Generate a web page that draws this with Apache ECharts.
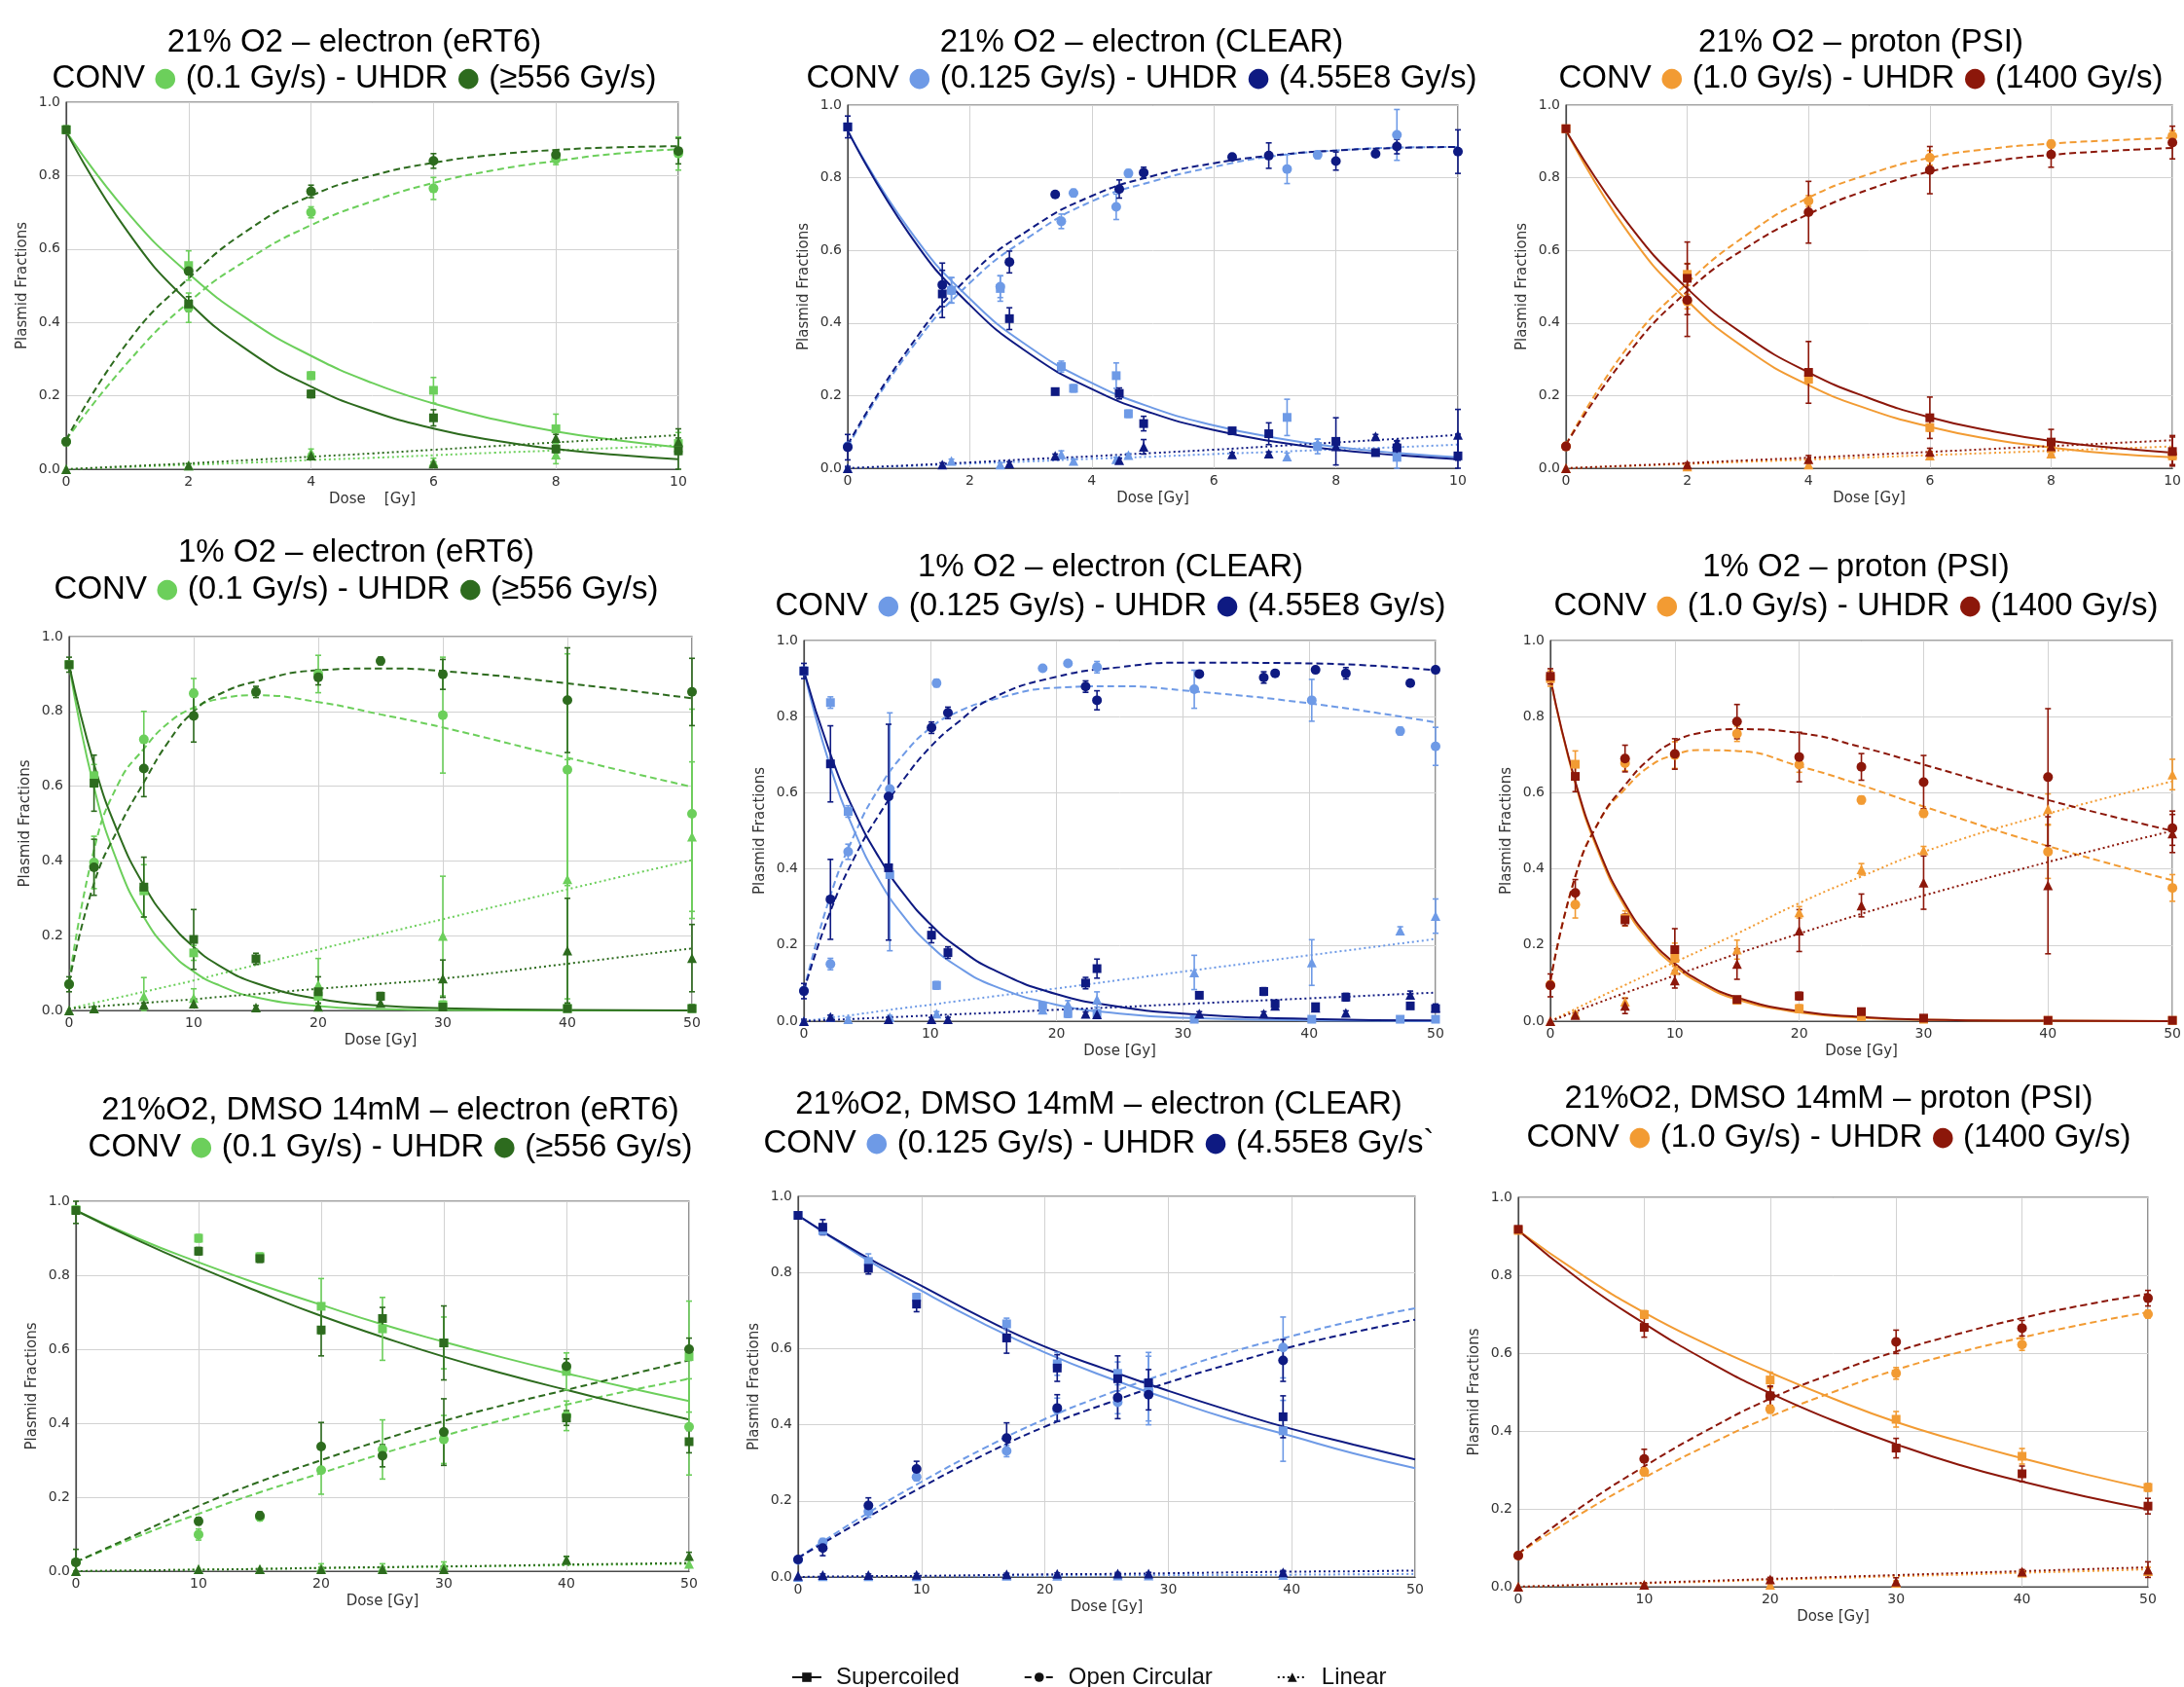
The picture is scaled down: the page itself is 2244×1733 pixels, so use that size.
<!DOCTYPE html>
<html><head><meta charset="utf-8">
<script src="https://cdn.jsdelivr.net/npm/echarts@6/dist/echarts.min.js"></script>
<style>html,body{margin:0;padding:0;background:#fff}#c{width:2244px;height:1733px}</style>
</head><body><div id="c"></div>
<script>
// ---------------- DATA ----------------
// Panel 1: 21% O2 – electron (eRT6)
const p1_dose = [0,2,4,6,8,10];
const p1_sc_conv = [0.925,0.555,0.255,0.215,0.11,0.07];
const p1_oc_conv = [0.075,0.44,0.70,0.765,0.845,0.86];
const p1_lin_conv = [0.0,0.01,0.045,0.02,0.04,0.06];
const p1_sc_uhdr = [0.925,0.45,0.205,0.14,0.055,0.05];
const p1_oc_uhdr = [0.075,0.54,0.757,0.84,0.857,0.867];
const p1_lin_uhdr = [0.0,0.01,0.037,0.015,0.085,0.075];
const p1_sc_conv_err = [0.01,0.04,0.01,0.035,0.04,0.03];
const p1_oc_conv_err = [0.01,0.04,0.015,0.03,0.015,0.045];
const p1_lin_conv_err = [0,0.005,0.01,0.01,0.025,0.01];
const p1_sc_uhdr_err = [0.01,0.02,0.01,0.022,0.01,0.06];
const p1_oc_uhdr_err = [0.01,0.01,0.017,0.02,0.01,0.035];
const p1_lin_uhdr_err = [0,0.005,0.005,0.005,0.01,0.01];
const p1_fx = [0,1,2,3,4,5,6,7,8,9,10];
const p1_fsc_conv = [0.92,0.70,0.533,0.405,0.309,0.235,0.179,0.136,0.103,0.079,0.060];
const p1_foc_conv = [0.08,0.29,0.455,0.575,0.665,0.73,0.78,0.815,0.84,0.86,0.872];
const p1_flin_conv = [0,0.006,0.012,0.018,0.025,0.031,0.038,0.045,0.051,0.058,0.065];
const p1_fsc_uhdr = [0.92,0.648,0.455,0.32,0.225,0.158,0.111,0.078,0.055,0.039,0.027];
const p1_foc_uhdr = [0.08,0.345,0.52,0.655,0.745,0.80,0.835,0.857,0.87,0.877,0.88];
const p1_flin_uhdr = [0,0.008,0.016,0.025,0.034,0.043,0.053,0.063,0.073,0.083,0.093];

// Panel 2: 21% O2 – electron (CLEAR)
const p2_dose_conv = [0,1.7,2.5,3.5,3.7,4.4,4.6,7.2,7.7,9.0];
const p2_sc_conv = [0.94,0.49,0.495,0.28,0.22,0.255,0.15,0.14,0.06,0.03];
const p2_oc_conv = [0.06,0.49,0.50,0.68,0.758,0.72,0.812,0.824,0.863,0.918];
const p2_lin_conv = [0.0,0.02,0.01,0.038,0.02,0.025,0.036,0.032,0.07,0.065];
const p2_sc_conv_err = [0.01,0.035,0.035,0.015,0.01,0.035,0.01,0.05,0.02,0.03];
const p2_oc_conv_err = [0.01,0.035,0.03,0.02,0.01,0.035,0.01,0.04,0.01,0.07];
const p2_lin_conv_err = [0,0.005,0.005,0.01,0.005,0.005,0.005,0.01,0.01,0.01];
const p2_dose_uhdr = [0,1.55,2.65,3.4,4.45,4.85,6.3,6.9,8.0,8.65,9.0,10];
const p2_sc_uhdr = [0.94,0.48,0.412,0.211,0.206,0.123,0.103,0.095,0.074,0.043,0.056,0.034];
const p2_oc_uhdr = [0.058,0.505,0.568,0.754,0.769,0.814,0.857,0.861,0.846,0.866,0.886,0.872];
const p2_lin_uhdr = [0.0,0.01,0.013,0.034,0.022,0.059,0.038,0.04,0.06,0.088,0.07,0.092];
const p2_sc_uhdr_err = [0.03,0.065,0.03,0.005,0.015,0.02,0.005,0.03,0.065,0.005,0.02,0.06];
const p2_oc_uhdr_err = [0.035,0.06,0.03,0.005,0.025,0.015,0.005,0.035,0.025,0.005,0.02,0.06];
const p2_lin_uhdr_err = [0.005,0.005,0.005,0.005,0.005,0.02,0.005,0.005,0.005,0.005,0.005,0.07];
const p2_fx = [0,1,2,3,4,5,6,7,8,9,10];
const p2_fsc_conv = [0.93,0.659,0.467,0.331,0.235,0.166,0.118,0.084,0.059,0.042,0.030];
const p2_foc_conv = [0.06,0.32,0.51,0.64,0.735,0.79,0.83,0.86,0.875,0.883,0.885];
const p2_flin_conv = [0,0.006,0.013,0.019,0.026,0.032,0.039,0.045,0.052,0.058,0.065];
const p2_fsc_uhdr = [0.93,0.647,0.45,0.313,0.218,0.151,0.105,0.073,0.051,0.036,0.025];
const p2_foc_uhdr = [0.065,0.33,0.53,0.66,0.75,0.805,0.84,0.862,0.875,0.882,0.885];
const p2_flin_uhdr = [0,0.008,0.016,0.025,0.033,0.042,0.051,0.061,0.071,0.081,0.092];

// Panel 3: 21% O2 – proton (PSI)
const p3_dose = [0,2,4,6,8,10];
const p3_sc_conv = [0.935,0.534,0.245,0.112,0.054,0.034];
const p3_oc_conv = [0.06,0.459,0.736,0.855,0.893,0.915];
const p3_lin_conv = [0.0,0.005,0.01,0.035,0.04,0.04];
const p3_sc_uhdr = [0.935,0.523,0.264,0.139,0.072,0.046];
const p3_oc_uhdr = [0.06,0.463,0.705,0.821,0.864,0.897];
const p3_lin_uhdr = [0.0,0.01,0.025,0.045,0.06,0.05];
const p3_sc_conv_err = [0.005,0.03,0.01,0.01,0.01,0.01];
const p3_oc_conv_err = [0.005,0.02,0.015,0.02,0.01,0.015];
const p3_lin_conv_err = [0,0.005,0.005,0.01,0.01,0.01];
const p3_sc_uhdr_err = [0.005,0.1,0.085,0.057,0.035,0.04];
const p3_oc_uhdr_err = [0.005,0.1,0.085,0.065,0.035,0.045];
const p3_lin_uhdr_err = [0,0.005,0.01,0.01,0.01,0.04];
const p3_fx = [0,1,2,3,4,5,6,7,8,9,10];
const p3_fsc_conv = [0.93,0.655,0.462,0.325,0.229,0.162,0.114,0.080,0.057,0.040,0.030];
const p3_foc_conv = [0.065,0.33,0.51,0.645,0.745,0.81,0.855,0.88,0.894,0.903,0.91];
const p3_flin_conv = [0,0.006,0.012,0.018,0.024,0.03,0.036,0.042,0.048,0.054,0.06];
const p3_fsc_uhdr = [0.93,0.679,0.495,0.361,0.264,0.193,0.140,0.103,0.075,0.057,0.043];
const p3_foc_uhdr = [0.065,0.31,0.487,0.61,0.70,0.768,0.817,0.845,0.863,0.874,0.882];
const p3_flin_uhdr = [0,0.007,0.014,0.022,0.029,0.037,0.045,0.053,0.061,0.069,0.077];

// Panel 4: 1% O2 – electron (eRT6)
const p4_dose_conv = [0,2,6,10,20,30,40,50];
const p4_sc_conv = [0.925,0.628,0.32,0.154,0.038,0.015,0.005,0.005];
const p4_oc_conv = [0.07,0.396,0.725,0.848,0.90,0.79,0.644,0.526];
const p4_lin_conv = [0.0,0.005,0.038,0.033,0.069,0.199,0.351,0.465];
const p4_sc_conv_err = [0.01,0.03,0.07,0.02,0.02,0.01,0.01,0.01];
const p4_oc_conv_err = [0.01,0.07,0.075,0.04,0.05,0.155,0.31,0.28];
const p4_lin_conv_err = [0,0.005,0.05,0.025,0.07,0.16,0.32,0.2];
const p4_dose_uhdr = [0,2,6,10,15,20,25,30,40,50];
const p4_sc_uhdr = [0.925,0.608,0.33,0.19,0.138,0.05,0.038,0.009,0.005,0.005];
const p4_oc_uhdr = [0.07,0.383,0.647,0.788,0.852,0.891,0.935,0.899,0.83,0.852];
const p4_lin_uhdr = [0.0,0.005,0.015,0.018,0.008,0.01,0.02,0.085,0.16,0.14];
const p4_sc_uhdr_err = [0.02,0.075,0.08,0.08,0.015,0.04,0.01,0.005,0.01,0.01];
const p4_oc_uhdr_err = [0.02,0.075,0.075,0.07,0.015,0.02,0.01,0.04,0.14,0.09];
const p4_lin_uhdr_err = [0,0.005,0.005,0.01,0.005,0.01,0.01,0.05,0.14,0.09];
const p4_fx = [0,2,4,6,8,10,12,15,20,25,30,40,50];
const p4_fsc_conv = [0.925,0.597,0.386,0.25,0.161,0.104,0.068,0.035,0.012,0.004,0.001,0,0];
const p4_foc_conv = [0.075,0.43,0.61,0.70,0.77,0.81,0.833,0.843,0.825,0.792,0.757,0.676,0.598];
const p4_flin_conv = [0.005,0.02,0.035,0.05,0.065,0.08,0.097,0.122,0.163,0.204,0.244,0.324,0.402];
const p4_fsc_uhdr = [0.925,0.659,0.47,0.335,0.239,0.17,0.121,0.073,0.031,0.013,0.006,0.001,0];
const p4_foc_uhdr = [0.075,0.34,0.49,0.61,0.72,0.80,0.845,0.88,0.91,0.915,0.908,0.875,0.835];
const p4_flin_uhdr = [0.005,0.01,0.015,0.02,0.025,0.03,0.036,0.044,0.058,0.071,0.085,0.125,0.166];

// Panel 5: 1% O2 – electron (CLEAR)
const p5_dose_conv = [0,2.1,3.5,6.8,10.5,18.9,20.9,23.2,30.9,40.2,47.2,50];
const p5_sc_conv = [0.92,0.837,0.551,0.385,0.094,0.04,0.02,0.02,0.005,0.005,0.005,0.005];
const p5_oc_conv = [0.08,0.15,0.445,0.61,0.888,0.927,0.94,0.93,0.872,0.843,0.762,0.722];
const p5_lin_conv = [0.0,0.01,0.005,0.01,0.02,0.03,0.044,0.057,0.128,0.154,0.238,0.276];
const p5_sc_conv_err = [0.01,0.015,0.015,0.2,0.01,0.01,0.01,0.01,0.005,0.005,0.005,0.005];
const p5_oc_conv_err = [0.01,0.015,0.02,0.2,0.01,0.005,0.005,0.015,0.05,0.055,0.01,0.05];
const p5_lin_conv_err = [0,0.005,0.005,0.005,0.005,0.005,0.01,0.02,0.045,0.06,0.01,0.045];
const p5_dose_uhdr = [0,2.1,6.7,10.1,11.4,22.3,23.2,31.3,36.4,37.3,40.5,42.9,48,50];
const p5_sc_uhdr = [0.92,0.676,0.403,0.226,0.18,0.10,0.138,0.068,0.078,0.046,0.038,0.063,0.04,0.033];
const p5_oc_uhdr = [0.079,0.32,0.59,0.771,0.81,0.879,0.843,0.912,0.903,0.914,0.923,0.914,0.888,0.923];
const p5_lin_uhdr = [0.0,0.011,0.005,0.005,0.005,0.019,0.018,0.02,0.02,0.04,0.035,0.022,0.069,0.035];
const p5_sc_uhdr_err = [0.02,0.1,0.19,0.02,0.015,0.015,0.025,0.005,0.01,0.005,0.005,0.01,0.005,0.005];
const p5_oc_uhdr_err = [0.02,0.105,0.19,0.015,0.015,0.015,0.025,0.005,0.015,0.005,0.005,0.015,0.005,0.005];
const p5_lin_uhdr_err = [0.005,0.005,0.005,0.005,0.005,0.005,0.005,0.005,0.005,0.005,0.005,0.005,0.01,0.01];
const p5_fx = [0,2,4,6,8,10,12,15,20,25,30,40,50];
const p5_fsc_conv = [0.92,0.678,0.499,0.367,0.271,0.199,0.147,0.093,0.043,0.02,0.009,0.002,0.0];
const p5_foc_conv = [0.08,0.32,0.49,0.615,0.705,0.77,0.81,0.845,0.876,0.88,0.869,0.835,0.785];
const p5_flin_conv = [0,0.009,0.017,0.026,0.035,0.043,0.052,0.065,0.086,0.108,0.13,0.173,0.216];
const p5_fsc_uhdr = [0.92,0.711,0.55,0.427,0.33,0.255,0.198,0.135,0.071,0.038,0.02,0.006,0.002];
const p5_foc_uhdr = [0.08,0.28,0.43,0.545,0.64,0.72,0.78,0.85,0.905,0.93,0.942,0.94,0.922];
const p5_flin_uhdr = [0,0.003,0.006,0.009,0.012,0.015,0.018,0.022,0.03,0.037,0.045,0.06,0.075];

// Panel 6: 1% O2 – proton (PSI)
const p6_dose = [0,2,6,10,15,20,25,30,40,50];
const p6_sc_conv = [0.90,0.675,0.27,0.165,0.055,0.033,0.012,0.005,0.002,0.002];
const p6_oc_conv = [0.095,0.306,0.678,0.699,0.755,0.674,0.581,0.546,0.445,0.35];
const p6_lin_conv = [0.0,0.02,0.051,0.134,0.188,0.286,0.399,0.449,0.557,0.648];
const p6_sc_uhdr = [0.906,0.643,0.266,0.188,0.057,0.066,0.025,0.008,0.002,0.002];
const p6_oc_uhdr = [0.094,0.337,0.69,0.702,0.787,0.694,0.668,0.628,0.641,0.507];
const p6_lin_uhdr = [0.0,0.016,0.04,0.107,0.15,0.238,0.304,0.364,0.357,0.493];
const p6_sc_conv_err = [0.02,0.035,0.02,0.04,0.005,0.01,0.005,0.005,0.002,0.002];
const p6_oc_conv_err = [0.01,0.035,0.02,0.035,0.02,0.02,0.01,0.01,0.07,0.035];
const p6_lin_conv_err = [0,0.005,0.01,0.01,0.025,0.015,0.015,0.01,0.04,0.04];
const p6_sc_uhdr_err = [0.02,0.04,0.015,0.055,0.005,0.01,0.005,0.005,0.002,0.002];
const p6_oc_uhdr_err = [0.03,0.035,0.035,0.04,0.045,0.065,0.035,0.07,0.18,0.045];
const p6_lin_uhdr_err = [0,0.005,0.02,0.02,0.04,0.055,0.03,0.07,0.18,0.05];
const p6_fx = [0,2,4,6,8,10,12,15,20,25,30,40,50];
const p6_fsc_conv = [0.90,0.625,0.433,0.30,0.208,0.145,0.100,0.057,0.023,0.009,0.004,0.001,0];
const p6_foc_conv = [0.105,0.38,0.53,0.61,0.67,0.70,0.712,0.71,0.67,0.62,0.564,0.46,0.37];
const p6_flin_conv = [0,0.032,0.064,0.095,0.125,0.155,0.185,0.23,0.31,0.38,0.445,0.545,0.63];
const p6_fsc_uhdr = [0.90,0.63,0.441,0.308,0.216,0.152,0.106,0.062,0.026,0.011,0.004,0.001,0];
const p6_foc_uhdr = [0.105,0.38,0.53,0.62,0.69,0.735,0.757,0.767,0.757,0.72,0.674,0.581,0.50];
const p6_flin_uhdr = [0,0.025,0.05,0.074,0.097,0.12,0.143,0.177,0.23,0.282,0.33,0.418,0.50];

// Panel 7: 21%O2, DMSO 14mM – electron (eRT6)
const p7_dose = [0,10,15,20,25,30,40,50];
const p7_sc_conv = [0.977,0.90,0.85,0.716,0.655,0.617,0.54,0.58];
const p7_oc_conv = [0.024,0.099,0.146,0.273,0.329,0.356,0.42,0.39];
const p7_lin_conv = [0.0,0.005,0.005,0.01,0.01,0.015,0.03,0.02];
const p7_sc_uhdr = [0.975,0.865,0.845,0.652,0.683,0.617,0.414,0.35];
const p7_oc_uhdr = [0.024,0.135,0.15,0.337,0.312,0.376,0.554,0.60];
const p7_lin_uhdr = [0.0,0.005,0.005,0.005,0.005,0.005,0.03,0.041];
const p7_sc_conv_err = [0.01,0.01,0.01,0.075,0.085,0.07,0.05,0.15];
const p7_oc_conv_err = [0.005,0.015,0.01,0.065,0.08,0.065,0.04,0.13];
const p7_lin_conv_err = [0,0,0,0.01,0.01,0.01,0.01,0.01];
const p7_sc_uhdr_err = [0.035,0.01,0.01,0.07,0.03,0.1,0.02,0.03];
const p7_oc_uhdr_err = [0.035,0.01,0.01,0.065,0.03,0.09,0.02,0.03];
const p7_lin_uhdr_err = [0,0,0,0.005,0.005,0.005,0.01,0.01];
const p7_fx = [0,5,10,15,20,25,30,35,40,45,50];
const p7_fsc_conv = [0.975,0.9,0.835,0.775,0.72,0.667,0.62,0.576,0.535,0.496,0.46];
const p7_foc_conv = [0.025,0.093,0.155,0.213,0.265,0.318,0.366,0.41,0.45,0.487,0.52];
const p7_flin_conv = [0,0.002,0.004,0.006,0.008,0.01,0.012,0.014,0.016,0.018,0.02];
const p7_fsc_uhdr = [0.975,0.895,0.822,0.754,0.69,0.633,0.58,0.533,0.49,0.449,0.41];
const p7_foc_uhdr = [0.025,0.1,0.176,0.242,0.30,0.355,0.406,0.45,0.49,0.53,0.57];
const p7_flin_uhdr = [0,0.002,0.004,0.006,0.009,0.011,0.013,0.015,0.018,0.02,0.022];

// Panel 8: 21%O2, DMSO 14mM – electron (CLEAR)
const p8_dose = [0,2.0,5.7,9.6,16.9,21.0,25.9,28.4,39.3];
const p8_sc_conv = [0.95,0.91,0.829,0.735,0.665,0.56,0.535,0.50,0.384];
const p8_oc_conv = [0.045,0.091,0.172,0.263,0.331,0.44,0.459,0.49,0.603];
const p8_lin_conv = [0.0,0.002,0.002,0.002,0.003,0.003,0.004,0.004,0.005];
const p8_sc_uhdr = [0.95,0.919,0.811,0.717,0.628,0.549,0.521,0.51,0.421];
const p8_oc_uhdr = [0.046,0.076,0.188,0.284,0.365,0.444,0.471,0.479,0.569];
const p8_lin_uhdr = [0.003,0.005,0.005,0.006,0.007,0.008,0.009,0.009,0.012];
const p8_sc_conv_err = [0.005,0.01,0.02,0.01,0.015,0.03,0.03,0.09,0.08];
const p8_oc_conv_err = [0.005,0.01,0.015,0.01,0.015,0.03,0.03,0.09,0.08];
const p8_lin_conv_err = [0,0,0,0,0,0,0,0,0];
const p8_sc_uhdr_err = [0.005,0.02,0.015,0.02,0.04,0.035,0.06,0.035,0.055];
const p8_oc_uhdr_err = [0.005,0.02,0.02,0.02,0.04,0.035,0.055,0.04,0.055];
const p8_lin_uhdr_err = [0,0.003,0.003,0.003,0.003,0.003,0.003,0.003,0.005];
const p8_fx = [0,5,10,15,20,25,30,35,40,45,50];
const p8_fsc_conv = [0.95,0.845,0.752,0.666,0.59,0.525,0.468,0.415,0.37,0.325,0.286];
const p8_foc_conv = [0.05,0.155,0.25,0.337,0.415,0.48,0.537,0.59,0.633,0.673,0.706];
const p8_flin_conv = [0,0.001,0.002,0.002,0.003,0.004,0.005,0.005,0.006,0.007,0.008];
const p8_fsc_uhdr = [0.95,0.85,0.765,0.68,0.605,0.545,0.489,0.437,0.389,0.348,0.309];
const p8_foc_uhdr = [0.05,0.145,0.236,0.32,0.395,0.456,0.511,0.56,0.605,0.643,0.676];
const p8_flin_uhdr = [0,0.002,0.003,0.005,0.007,0.008,0.01,0.012,0.014,0.015,0.017];

// Panel 9: 21%O2, DMSO 14mM – proton (PSI)
const p9_dose = [0,10,20,30,40,50];
const p9_sc_conv = [0.915,0.699,0.531,0.43,0.335,0.255];
const p9_oc_conv = [0.08,0.295,0.456,0.548,0.622,0.70];
const p9_lin_conv = [0.0,0.005,0.005,0.01,0.036,0.04];
const p9_sc_uhdr = [0.918,0.666,0.49,0.356,0.29,0.207];
const p9_oc_uhdr = [0.08,0.328,0.49,0.629,0.664,0.741];
const p9_lin_uhdr = [0.0,0.005,0.019,0.013,0.039,0.044];
const p9_sc_conv_err = [0.005,0.01,0.02,0.02,0.02,0.01];
const p9_oc_conv_err = [0.005,0.01,0.01,0.015,0.015,0.01];
const p9_lin_conv_err = [0,0.003,0.003,0.005,0.005,0.01];
const p9_sc_uhdr_err = [0.005,0.025,0.025,0.025,0.02,0.02];
const p9_oc_uhdr_err = [0.005,0.025,0.025,0.03,0.02,0.02];
const p9_lin_uhdr_err = [0,0.003,0.005,0.01,0.005,0.02];
const p9_fx = [0,5,10,15,20,25,30,35,40,45,50];
const p9_fsc_conv = [0.915,0.802,0.704,0.622,0.55,0.483,0.423,0.374,0.33,0.289,0.252];
const p9_foc_conv = [0.085,0.188,0.28,0.363,0.437,0.50,0.557,0.602,0.64,0.675,0.705];
const p9_flin_conv = [0,0.004,0.009,0.013,0.018,0.022,0.027,0.031,0.036,0.04,0.045];
const p9_fsc_uhdr = [0.915,0.785,0.676,0.58,0.497,0.427,0.366,0.313,0.27,0.232,0.199];
const p9_foc_uhdr = [0.085,0.205,0.309,0.402,0.483,0.548,0.604,0.65,0.69,0.724,0.752];
const p9_flin_uhdr = [0,0.005,0.01,0.015,0.02,0.025,0.03,0.035,0.04,0.045,0.05];

const y_ticks = [0,0.2,0.4,0.6,0.8,1.0];
const legend_names = ['Supercoiled','Open Circular','Linear'];

// ---------------- STYLE / LAYOUT ----------------
const COLORS = {
  green: ['#6ccf5b', '#2d6b1e'],
  blue: ['#6e9ae6', '#0e1a82'],
  orange: ['#f29b33', '#8c170a']
};
const TITLE_FONT = 'Liberation Sans, Arial, sans-serif';
const AX_FONT = 'DejaVu Sans, sans-serif';

const PANELS = [
  {c:'green', g:[68,105,629,377], tx:364, ty:[44,81], xmax:10, xint:2, xname:'Dose    [Gy]',
   t1:'21% O2 – electron (eRT6)', rc:'(0.1 Gy/s)', ru:'(≥556 Gy/s)',
   conv:{x:p1_dose, y:[p1_sc_conv,p1_oc_conv,p1_lin_conv], e:[p1_sc_conv_err,p1_oc_conv_err,p1_lin_conv_err], f:[p1_fsc_conv,p1_foc_conv,p1_flin_conv]},
   uhdr:{x:p1_dose, y:[p1_sc_uhdr,p1_oc_uhdr,p1_lin_uhdr], e:[p1_sc_uhdr_err,p1_oc_uhdr_err,p1_lin_uhdr_err], f:[p1_fsc_uhdr,p1_foc_uhdr,p1_flin_uhdr]}, fx:p1_fx},
  {c:'blue', g:[871,108,627,373], tx:1173, ty:[44,81], xmax:10, xint:2, xname:'Dose [Gy]',
   t1:'21% O2 – electron (CLEAR)', rc:'(0.125 Gy/s)', ru:'(4.55E8 Gy/s)',
   conv:{x:p2_dose_conv, y:[p2_sc_conv,p2_oc_conv,p2_lin_conv], e:[p2_sc_conv_err,p2_oc_conv_err,p2_lin_conv_err], f:[p2_fsc_conv,p2_foc_conv,p2_flin_conv]},
   uhdr:{x:p2_dose_uhdr, y:[p2_sc_uhdr,p2_oc_uhdr,p2_lin_uhdr], e:[p2_sc_uhdr_err,p2_oc_uhdr_err,p2_lin_uhdr_err], f:[p2_fsc_uhdr,p2_foc_uhdr,p2_flin_uhdr]}, fx:p2_fx},
  {c:'orange', g:[1609,108,627,373], tx:1912, ty:[44,81], xmax:10, xint:2, xname:'Dose [Gy]',
   t1:'21% O2 – proton (PSI)', rc:'(1.0 Gy/s)', ru:'(1400 Gy/s)',
   conv:{x:p3_dose, y:[p3_sc_conv,p3_oc_conv,p3_lin_conv], e:[p3_sc_conv_err,p3_oc_conv_err,p3_lin_conv_err], f:[p3_fsc_conv,p3_foc_conv,p3_flin_conv]},
   uhdr:{x:p3_dose, y:[p3_sc_uhdr,p3_oc_uhdr,p3_lin_uhdr], e:[p3_sc_uhdr_err,p3_oc_uhdr_err,p3_lin_uhdr_err], f:[p3_fsc_uhdr,p3_foc_uhdr,p3_flin_uhdr]}, fx:p3_fx},
  {c:'green', g:[71,654,640,384], tx:366, ty:[568,606], xmax:50, xint:10, xname:'Dose [Gy]',
   t1:'1% O2 – electron (eRT6)', rc:'(0.1 Gy/s)', ru:'(≥556 Gy/s)',
   conv:{x:p4_dose_conv, y:[p4_sc_conv,p4_oc_conv,p4_lin_conv], e:[p4_sc_conv_err,p4_oc_conv_err,p4_lin_conv_err], f:[p4_fsc_conv,p4_foc_conv,p4_flin_conv]},
   uhdr:{x:p4_dose_uhdr, y:[p4_sc_uhdr,p4_oc_uhdr,p4_lin_uhdr], e:[p4_sc_uhdr_err,p4_oc_uhdr_err,p4_lin_uhdr_err], f:[p4_fsc_uhdr,p4_foc_uhdr,p4_flin_uhdr]}, fx:p4_fx},
  {c:'blue', g:[826,658,649,391], tx:1141, ty:[583,623], xmax:50, xint:10, xname:'Dose [Gy]',
   t1:'1% O2 – electron (CLEAR)', rc:'(0.125 Gy/s)', ru:'(4.55E8 Gy/s)',
   conv:{x:p5_dose_conv, y:[p5_sc_conv,p5_oc_conv,p5_lin_conv], e:[p5_sc_conv_err,p5_oc_conv_err,p5_lin_conv_err], f:[p5_fsc_conv,p5_foc_conv,p5_flin_conv]},
   uhdr:{x:p5_dose_uhdr, y:[p5_sc_uhdr,p5_oc_uhdr,p5_lin_uhdr], e:[p5_sc_uhdr_err,p5_oc_uhdr_err,p5_lin_uhdr_err], f:[p5_fsc_uhdr,p5_foc_uhdr,p5_flin_uhdr]}, fx:p5_fx},
  {c:'orange', g:[1593,658,650,391], tx:1907, ty:[583,623], xmax:50, xint:10, xname:'Dose [Gy]',
   t1:'1% O2 – proton (PSI)', rc:'(1.0 Gy/s)', ru:'(1400 Gy/s)',
   conv:{x:p6_dose, y:[p6_sc_conv,p6_oc_conv,p6_lin_conv], e:[p6_sc_conv_err,p6_oc_conv_err,p6_lin_conv_err], f:[p6_fsc_conv,p6_foc_conv,p6_flin_conv]},
   uhdr:{x:p6_dose, y:[p6_sc_uhdr,p6_oc_uhdr,p6_lin_uhdr], e:[p6_sc_uhdr_err,p6_oc_uhdr_err,p6_lin_uhdr_err], f:[p6_fsc_uhdr,p6_foc_uhdr,p6_flin_uhdr]}, fx:p6_fx},
  {c:'green', g:[78,1234,630,380], tx:401, ty:[1141,1179], xmax:50, xint:10, xname:'Dose [Gy]',
   t1:'21%O2, DMSO 14mM – electron (eRT6)', rc:'(0.1 Gy/s)', ru:'(≥556 Gy/s)',
   conv:{x:p7_dose, y:[p7_sc_conv,p7_oc_conv,p7_lin_conv], e:[p7_sc_conv_err,p7_oc_conv_err,p7_lin_conv_err], f:[p7_fsc_conv,p7_foc_conv,p7_flin_conv]},
   uhdr:{x:p7_dose, y:[p7_sc_uhdr,p7_oc_uhdr,p7_lin_uhdr], e:[p7_sc_uhdr_err,p7_oc_uhdr_err,p7_lin_uhdr_err], f:[p7_fsc_uhdr,p7_foc_uhdr,p7_flin_uhdr]}, fx:p7_fx},
  {c:'blue', g:[820,1229,634,391], tx:1129, ty:[1135,1175], xmax:50, xint:10, xname:'Dose [Gy]',
   t1:'21%O2, DMSO 14mM – electron (CLEAR)', rc:'(0.125 Gy/s)', ru:'(4.55E8 Gy/s`',
   conv:{x:p8_dose, y:[p8_sc_conv,p8_oc_conv,p8_lin_conv], e:[p8_sc_conv_err,p8_oc_conv_err,p8_lin_conv_err], f:[p8_fsc_conv,p8_foc_conv,p8_flin_conv]},
   uhdr:{x:p8_dose, y:[p8_sc_uhdr,p8_oc_uhdr,p8_lin_uhdr], e:[p8_sc_uhdr_err,p8_oc_uhdr_err,p8_lin_uhdr_err], f:[p8_fsc_uhdr,p8_foc_uhdr,p8_flin_uhdr]}, fx:p8_fx},
  {c:'orange', g:[1560,1230,647,400], tx:1879, ty:[1129,1169], xmax:50, xint:10, xname:'Dose [Gy]',
   t1:'21%O2, DMSO 14mM – proton (PSI)', rc:'(1.0 Gy/s)', ru:'(1400 Gy/s)',
   conv:{x:p9_dose, y:[p9_sc_conv,p9_oc_conv,p9_lin_conv], e:[p9_sc_conv_err,p9_oc_conv_err,p9_lin_conv_err], f:[p9_fsc_conv,p9_foc_conv,p9_flin_conv]},
   uhdr:{x:p9_dose, y:[p9_sc_uhdr,p9_oc_uhdr,p9_lin_uhdr], e:[p9_sc_uhdr_err,p9_oc_uhdr_err,p9_lin_uhdr_err], f:[p9_fsc_uhdr,p9_foc_uhdr,p9_flin_uhdr]}, fx:p9_fx}
];

const SYMS = ['rect','circle','triangle'];
const SYM_SIZE = [9, 10, 10];
const DASH = ['solid', [7,4], [2,3]];

const grids = [], xAxes = [], yAxes = [], titles = [], series = [];

function errRender(color) {
  return function (params, api) {
    const x = api.value(0), y = api.value(1), e = api.value(2);
    if (!e) return null;
    const hi = api.coord([x, Math.min(1, y + e)]);
    const lo = api.coord([x, Math.max(0, y - e)]);
    const w = 3;
    const st = {stroke: color, lineWidth: 1.6};
    return {type: 'group', children: [
      {type: 'line', shape: {x1: hi[0], y1: hi[1], x2: lo[0], y2: lo[1]}, style: st},
      {type: 'line', shape: {x1: hi[0]-w, y1: hi[1], x2: hi[0]+w, y2: hi[1]}, style: st},
      {type: 'line', shape: {x1: lo[0]-w, y1: lo[1], x2: lo[0]+w, y2: lo[1]}, style: st}
    ]};
  };
}

PANELS.forEach((p, i) => {
  const cols = COLORS[p.c];
  grids.push({left: p.g[0], top: p.g[1], width: p.g[2], height: p.g[3], show: true,
    borderColor: '#4a4a4a', borderWidth: 1.2, backgroundColor: 'transparent', containLabel: false});
  xAxes.push({gridIndex: i, type: 'value', min: 0, max: p.xmax, interval: p.xint,
    name: p.xname, nameLocation: 'middle', nameGap: 24,
    nameTextStyle: {fontFamily: AX_FONT, fontSize: 15, color: '#333'},
    axisLine: {show: true, onZero: false, lineStyle: {color: '#4a4a4a', width: 1.2}},
    axisTick: {show: false},
    axisLabel: {fontFamily: AX_FONT, fontSize: 14, color: '#333', margin: 6},
    splitLine: {show: true, lineStyle: {color: '#d2d2d2', width: 1}}});
  yAxes.push({gridIndex: i, type: 'value', min: y_ticks[0], max: y_ticks[y_ticks.length-1], interval: 0.2,
    name: 'Plasmid Fractions', nameLocation: 'middle', nameGap: 37, nameRotate: 90,
    nameTextStyle: {fontFamily: AX_FONT, fontSize: 15, color: '#333'},
    axisLine: {show: true, lineStyle: {color: '#4a4a4a', width: 1.2}},
    axisTick: {show: false},
    axisLabel: {fontFamily: AX_FONT, fontSize: 14, color: '#333', margin: 6, formatter: v => v.toFixed(1)},
    splitLine: {show: true, lineStyle: {color: '#d2d2d2', width: 1}}});
  titles.push({text: p.t1, left: p.tx, top: p.ty[0], textAlign: 'center', textVerticalAlign: 'middle', padding: 0,
    textStyle: {fontFamily: TITLE_FONT, fontSize: 33, fontWeight: 'normal', color: '#000'}});
  titles.push({text: '{t|CONV }{a|●}{t| ' + p.rc + ' - UHDR }{b|●}{t| ' + p.ru + '}',
    left: p.tx, top: p.ty[1], textAlign: 'center', textVerticalAlign: 'middle', padding: 0,
    textStyle: {fontFamily: TITLE_FONT, fontSize: 33, fontWeight: 'normal', color: '#000',
      rich: {t: {fontFamily: TITLE_FONT, fontSize: 33, color: '#000'},
             a: {fontFamily: AX_FONT, fontSize: 27, color: cols[0]},
             b: {fontFamily: AX_FONT, fontSize: 27, color: cols[1]}}}});
  ['conv', 'uhdr'].forEach((r, ri) => {
    const col = cols[ri];
    const d = p[r];
    for (let k = 0; k < 3; k++) {
      series.push({type: 'line', xAxisIndex: i, yAxisIndex: i, showSymbol: false, silent: true,
        smooth: 0.5, z: 2,
        lineStyle: {color: col, width: 2, type: DASH[k]},
        data: p.fx.map((x, j) => [x, d.f[k][j]])});
      series.push({type: 'custom', xAxisIndex: i, yAxisIndex: i, silent: true, z: 3,
        renderItem: errRender(col), encode: {x: 0, y: 1},
        data: d.x.map((x, j) => [x, d.y[k][j], d.e[k][j]])});
      series.push({type: 'scatter', xAxisIndex: i, yAxisIndex: i, silent: true, z: 4,
        symbol: SYMS[k], symbolSize: SYM_SIZE[k], itemStyle: {color: col, opacity: 1},
        data: d.x.map((x, j) => [x, d.y[k][j]])});
    }
  });
});

// legend entries (no data, only for the shared legend)
legend_names.forEach((n, k) => {
  series.push({type: 'line', name: n, xAxisIndex: 0, yAxisIndex: 0, data: [],
    symbol: SYMS[k], symbolSize: 9, itemStyle: {color: '#111'},
    lineStyle: {color: '#111', width: 2.5, type: DASH[k]}});
});

const chart = echarts.init(document.getElementById('c'), null, {renderer: 'canvas'});
chart.setOption({
  animation: false,
  backgroundColor: '#fff',
  title: titles,
  grid: grids,
  xAxis: xAxes,
  yAxis: yAxes,
  legend: {data: legend_names, left: 808, top: 1706, itemWidth: 30, itemHeight: 12, itemGap: 66,
    selectedMode: false, textStyle: {fontFamily: TITLE_FONT, fontSize: 24, color: '#111', padding: [0,0,0,10]}},
  series: series
});
</script></body></html>
